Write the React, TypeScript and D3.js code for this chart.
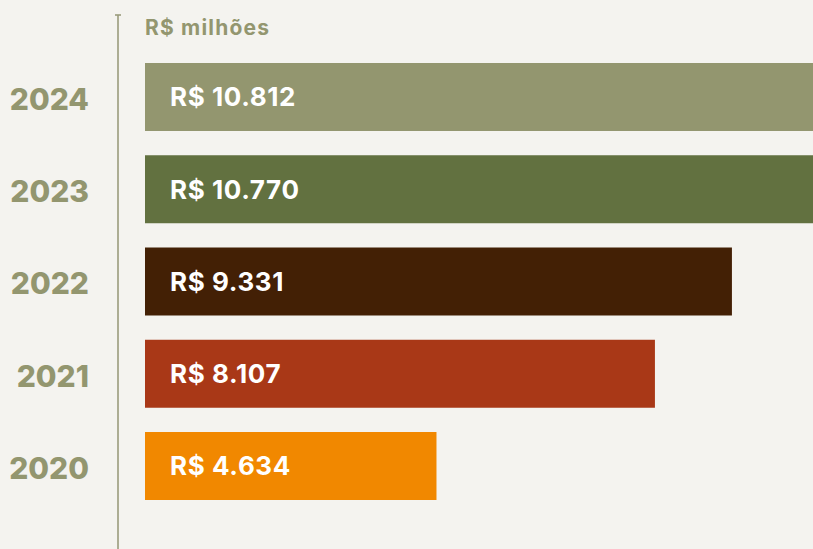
import React from 'react';
import * as d3 from 'd3';

const years = ['2024', '2023', '2022', '2021', '2020'];
const values = [10812, 10770, 9331, 8107, 4634];
const valueLabels = ['R$ 10.812', 'R$ 10.770', 'R$ 9.331', 'R$ 8.107', 'R$ 4.634'];
const colors = ['#93966f', '#627140', '#432005', '#a93817', '#f18800'];
const unitLabel = 'R$ milhões';

const width = 813;
const height = 549;
const font = 'Inter, "Noto Sans", sans-serif';

export default function App() {
  const x = d3.scaleLinear().domain([0, 10000]).range([145, 774]);
  const y = d3.scaleBand().domain(years).range([63, 500]).paddingInner(0.263).paddingOuter(0);

  return (
    <svg
      width={width}
      height={height}
      style={{ position: 'absolute', left: 0, top: 0, background: '#f4f3ef', fontFamily: font }}
    >
      <rect x={0} y={0} width={width} height={height} fill="#f4f3ef" />
      {/* axis */}
      <line x1={118} x2={118} y1={15} y2={height} stroke="#9a9b7c" strokeWidth={1.6} />
      <line x1={115} x2={121} y1={15} y2={15} stroke="#9a9b7c" strokeWidth={1.6} />
      <text x={145} y={35} fill="#93966f" fontSize={21} fontWeight={700} letterSpacing={1.2}>
        {unitLabel}
      </text>
      {years.map((yr, i) => (
        <g key={yr}>
          <rect
            x={x(0)}
            y={y(yr)}
            width={x(values[i]) - x(0)}
            height={y.bandwidth()}
            fill={colors[i]}
          />
          <text
            x={89}
            y={(y(yr) as number) + y.bandwidth() / 2 + 2}
            dy="0.36em"
            textAnchor="end"
            fill="#93966f"
            fontSize={30}
            fontWeight={800}
          >
            {yr}
          </text>
          <text
            x={170}
            y={(y(yr) as number) + y.bandwidth() / 2}
            dy="0.36em"
            fill="#ffffff"
            fontSize={26}
            fontWeight={700}
            letterSpacing={0.6}
          >
            {valueLabels[i]}
          </text>
        </g>
      ))}
    </svg>
  );
}
